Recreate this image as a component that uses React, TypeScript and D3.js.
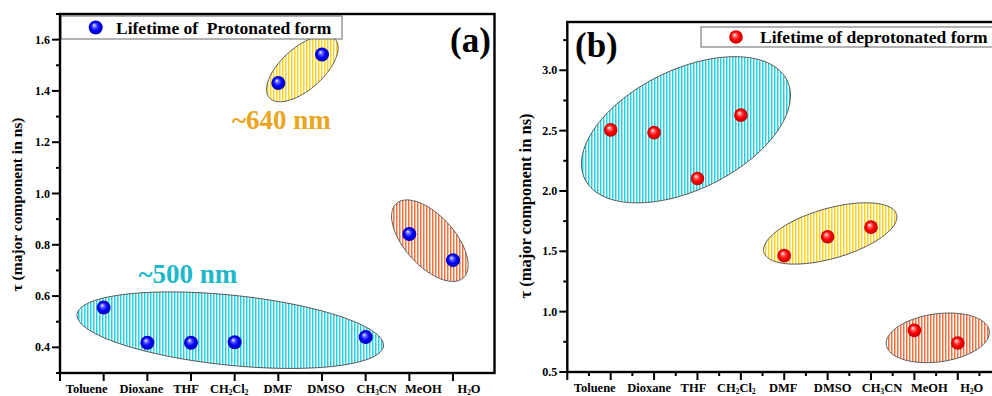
import React from "react";
import * as d3 from "d3";

const categories = ["Toluene", "Dioxane", "THF", "CH2Cl2", "DMF", "DMSO", "CH3CN", "MeOH", "H2O"];
const protonated = [0.555, 0.418, 0.418, 0.42, 1.431, 1.542, 0.44, 0.842, 0.74];
const deprotonated = [2.506, 2.483, 2.103, 2.628, 1.464, 1.621, 1.7, 0.845, 0.74];
const yTicksA = [0.4, 0.6, 0.8, 1.0, 1.2, 1.4, 1.6];
const yMinorA = [0.3, 0.5, 0.7, 0.9, 1.1, 1.3, 1.5, 1.7];
const yTicksB = [0.5, 1.0, 1.5, 2.0, 2.5, 3.0];
const yMinorB = [0.75, 1.25, 1.75, 2.25, 2.75, 3.25];
const legendA = "Lifetime of  Protonated form";
const legendB = "Lifetime of deprotonated form";
const yLabel = "τ (major component in ns)";

// layout: tick label horizontal offsets (px) from their tick, as placed in the original figure
const labelOffsetsA = [-17, -6, -5, -5.5, -0.5, 4, 11, 14, 16];
const labelOffsetsB = [-16, -5, -4, -4.5, -1, 5, 11, 15, 14];

// annotation groups: center in data units (category index, value), radii in px, rotation in deg
const groupsA = [
  { fill: "cyan", cx: 2.9, cy: 0.467, rx: 154, ry: 35, angle: 5.9 },
  { fill: "yellow", cx: 4.55, cy: 1.487, rx: 44, ry: 21, angle: -41.5 },
  { fill: "orange", cx: 7.47, cy: 0.816, rx: 50, ry: 25, angle: 48 },
];
const groupsB = [
  { fill: "cyan", cx: 1.735, cy: 2.507, rx: 112.5, ry: 60, angle: -26 },
  { fill: "yellow", cx: 5.06, cy: 1.648, rx: 69, ry: 25, angle: -16 },
  { fill: "orange", cx: 7.54, cy: 0.783, rx: 52, ry: 24, angle: -7.7 },
];
const notesA = [
  { text: "~640 nm", cx: 4.07, cy: 1.25, color: "#EBA51E" },
  { text: "~500 nm", cx: 1.93, cy: 0.65, color: "#1DB8C9" },
];

const FONT = "Liberation Serif, Times New Roman, serif";
const hatchColors: Record<string, string> = {
  cyan: "#22D2E4",
  yellow: "#FFD21C",
  orange: "#F2703E",
};

function ellipsePath(cx: number, cy: number, rx: number, ry: number, angleDeg: number) {
  const a = (angleDeg * Math.PI) / 180;
  const pts: [number, number][] = d3.range(0, 180).map((k) => {
    const t = (k / 180) * 2 * Math.PI;
    const ex = rx * Math.cos(t);
    const ey = ry * Math.sin(t);
    return [cx + ex * Math.cos(a) - ey * Math.sin(a), cy + ex * Math.sin(a) + ey * Math.cos(a)];
  });
  return d3.line().curve(d3.curveLinearClosed)(pts) || "";
}

function Label({ text, x, y, size }: { text: string; x: number; y: number; size: number }) {
  const parts = text.split(/(\d)/).filter((p) => p !== "");
  let shifted = false;
  return (
    <text x={x} y={y} textAnchor="middle" fontFamily={FONT} fontWeight="bold" fontSize={size} fill="#000">
      {parts.map((p, i) => {
        const isSub = /\d/.test(p);
        let dy = 0;
        if (isSub && !shifted) {
          dy = 2;
          shifted = true;
        } else if (!isSub && shifted) {
          dy = -2;
          shifted = false;
        }
        return (
          <tspan key={i} dy={dy} fontSize={isSub ? size * 0.58 : size}>
            {p}
          </tspan>
        );
      })}
    </text>
  );
}

type PanelProps = {
  left: number;
  right: number;
  top: number;
  bottom: number;
  yDomain: [number, number];
  yTicks: number[];
  yMinor: number[];
  values: number[];
  ball: string;
  groups: typeof groupsA;
  xMinor: boolean;
  offsets: number[];
  legend: { text: string; x0: number; x1: number; y0: number; y1: number; mx: number; tx: number };
  tag: { text: string; x: number; y: number };
  ylab: { x: number; y: number; size: number };
  r: number;
  notes?: typeof notesA;
};

function Panel(p: PanelProps) {
  const x = d3.scaleLinear().domain([-1, 8.95]).range([p.left, p.right]);
  const y = d3.scaleLinear().domain(p.yDomain).range([p.bottom, p.top]);
  const fmt = d3.format(".1f");
  const majorX = d3.range(-1, 9);
  const minorX = p.xMinor ? d3.range(-0.5, 9, 1) : [];
  const ly = (p.legend.y0 + p.legend.y1) / 2;
  return (
    <g>
      {p.groups.map((g, i) => (
        <path
          key={i}
          d={ellipsePath(x(g.cx), y(g.cy), g.rx, g.ry, g.angle)}
          fill={`url(#hatch-${g.fill})`}
          stroke="#555"
          strokeWidth={1}
        />
      ))}
      {(p.notes || []).map((n, i) => (
        <text
          key={i}
          x={x(n.cx)}
          y={y(n.cy)}
          textAnchor="middle"
          fontFamily={FONT}
          fontWeight="bold"
          fontSize={27}
          fill={n.color}
        >
          {n.text}
        </text>
      ))}
      {p.values.map((v, i) => (
        <circle key={i} cx={x(i)} cy={y(v)} r={p.r} fill={`url(#${p.ball})`} />
      ))}
      {/* legend */}
      <rect
        x={p.legend.x0}
        y={p.legend.y0}
        width={p.legend.x1 - p.legend.x0}
        height={p.legend.y1 - p.legend.y0}
        fill="#fff"
        stroke="#666"
        strokeWidth={1}
      />
      <circle cx={p.legend.mx} cy={ly} r={p.r} fill={`url(#${p.ball})`} />
      <text
        x={p.legend.tx}
        y={ly}
        dominantBaseline="central"
        fontFamily={FONT}
        fontWeight="bold"
        fontSize={17.5}
        style={{ whiteSpace: "pre" }}
      >
        {p.legend.text}
      </text>
      {/* frame */}
      <rect
        x={p.left}
        y={p.top}
        width={p.right - p.left}
        height={p.bottom - p.top}
        fill="none"
        stroke="#000"
        strokeWidth={2.4}
      />
      {/* y ticks */}
      {p.yTicks.map((t) => (
        <g key={t}>
          <line x1={p.left - 8} x2={p.left} y1={y(t)} y2={y(t)} stroke="#000" strokeWidth={2} />
          <text
            x={p.left - 10}
            y={y(t)}
            textAnchor="end"
            dominantBaseline="central"
            fontFamily={FONT}
            fontWeight="bold"
            fontSize={12}
          >
            {fmt(t)}
          </text>
        </g>
      ))}
      {p.yMinor.map((t) => (
        <line key={t} x1={p.left - 4} x2={p.left} y1={y(t)} y2={y(t)} stroke="#000" strokeWidth={2} />
      ))}
      {/* x ticks */}
      {majorX.map((t) => (
        <line key={t} x1={x(t)} x2={x(t)} y1={p.bottom} y2={p.bottom + 8} stroke="#000" strokeWidth={2} />
      ))}
      {minorX.map((t) => (
        <line key={t} x1={x(t)} x2={x(t)} y1={p.bottom} y2={p.bottom + 4} stroke="#000" strokeWidth={2} />
      ))}
      {categories.map((c, i) => (
        <Label key={c} text={c} x={x(i) + p.offsets[i]} y={p.bottom + 19.5} size={12.5} />
      ))}
      <text
        transform={`translate(${p.ylab.x},${p.ylab.y}) rotate(-90)`}
        textAnchor="middle"
        dominantBaseline="central"
        fontFamily={FONT}
        fontWeight="bold"
        fontSize={p.ylab.size}
      >
        {yLabel}
      </text>
      <text x={p.tag.x} y={p.tag.y} fontFamily={FONT} fontWeight="bold" fontSize={35}>
        {p.tag.text}
      </text>
    </g>
  );
}

export default function App() {
  return (
    <svg
      width={992}
      height={396}
      style={{ position: "absolute", left: 0, top: 0, background: "#fff" }}
    >
      <defs>
        {Object.entries(hatchColors).map(([k, c]) => (
          <pattern key={k} id={`hatch-${k}`} patternUnits="userSpaceOnUse" width={3} height={10}>
            <rect x={0} y={0} width={3} height={10} fill="#fff" />
            <rect x={0} y={0} width={1.5} height={10} fill={c} />
          </pattern>
        ))}
        <radialGradient id="ballBlue" cx="50%" cy="50%" r="50%" fx="38%" fy="32%">
          <stop offset="0%" stopColor="#ffffff" />
          <stop offset="25%" stopColor="#6a6aff" />
          <stop offset="60%" stopColor="#0000ff" />
          <stop offset="100%" stopColor="#0000b0" />
        </radialGradient>
        <radialGradient id="ballRed" cx="50%" cy="50%" r="50%" fx="38%" fy="32%">
          <stop offset="0%" stopColor="#ffffff" />
          <stop offset="25%" stopColor="#ff7070" />
          <stop offset="60%" stopColor="#ff0000" />
          <stop offset="100%" stopColor="#c00000" />
        </radialGradient>
      </defs>
      <Panel
        left={60}
        right={494.5}
        top={14}
        bottom={373}
        yDomain={[0.3, 1.7]}
        yTicks={yTicksA}
        yMinor={yMinorA}
        values={protonated}
        ball="ballBlue"
        groups={groupsA}
        xMinor={false}
        offsets={labelOffsetsA}
        legend={{ text: legendA, x0: 61, x1: 342, y0: 16, y1: 39, mx: 95.7, tx: 116 }}
        tag={{ text: "(a)", x: 450, y: 52 }}
        ylab={{ x: 16, y: 204.5, size: 15.5 }}
        r={7}
        notes={notesA}
      />
      <Panel
        left={567.3}
        right={999}
        top={22}
        bottom={372}
        yDomain={[0.5, 3.4]}
        yTicks={yTicksB}
        yMinor={yMinorB}
        values={deprotonated}
        ball="ballRed"
        groups={groupsB}
        xMinor={true}
        offsets={labelOffsetsB}
        legend={{ text: legendB, x0: 701, x1: 1000, y0: 27, y1: 47, mx: 736, tx: 760 }}
        tag={{ text: "(b)", x: 575, y: 56.5 }}
        ylab={{ x: 525, y: 206, size: 16.5 }}
        r={6.8}
      />
    </svg>
  );
}
